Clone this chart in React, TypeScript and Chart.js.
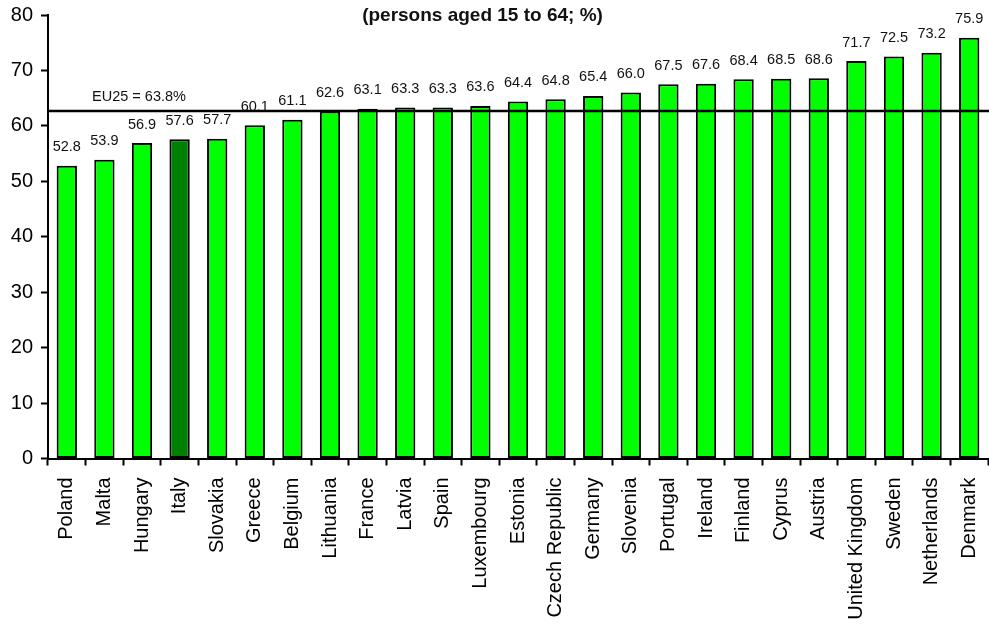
import React, { useEffect, useRef } from "react";
import { Chart, registerables } from "chart.js";

Chart.register(...registerables);

const categories = [
  "Poland", "Malta", "Hungary", "Italy", "Slovakia", "Greece", "Belgium",
  "Lithuania", "France", "Latvia", "Spain", "Luxembourg", "Estonia",
  "Czech Republic", "Germany", "Slovenia", "Portugal", "Ireland", "Finland",
  "Cyprus", "Austria", "United Kingdom", "Sweden", "Netherlands", "Denmark",
];
const employmentRate = [
  52.8, 53.9, 56.9, 57.6, 57.7, 60.1, 61.1, 62.6, 63.1, 63.3, 63.3, 63.6,
  64.4, 64.8, 65.4, 66.0, 67.5, 67.6, 68.4, 68.5, 68.6, 71.7, 72.5, 73.2, 75.9,
];
const highlighted = "Italy";
const eu25LineValue = 62.7;
const eu25Label = "EU25 = 63.8%";
const titleText = "(persons aged 15 to 64; %)";
const yTicks = [0, 10, 20, 30, 40, 50, 60, 70, 80];

const FONT = "'Liberation Sans', Arial, Helvetica, sans-serif";

export default function App() {
  const ref = useRef<HTMLCanvasElement | null>(null);

  useEffect(() => {
    const canvas = ref.current;
    if (!canvas) return;

    const overlay = {
      id: "overlay",
      afterDatasetsDraw(chart: any) {
        const ctx = chart.ctx;
        const meta = chart.getDatasetMeta(0);
        const ds = chart.data.datasets[0];
        ctx.save();
        ctx.fillStyle = "#111";
        ctx.font = `14.5px ${FONT}`;
        ctx.textAlign = "center";
        ctx.textBaseline = "middle";
        meta.data.forEach((bar: any, i: number) => {
          ctx.fillText((ds.data[i] as number).toFixed(1), bar.x, bar.y - 18.5);
        });
        const y = chart.scales.y.getPixelForValue(eu25LineValue);
        ctx.strokeStyle = "#000";
        ctx.lineWidth = 2.5;
        ctx.beginPath();
        ctx.moveTo(chart.chartArea.left, y);
        ctx.lineTo(chart.width, y);
        ctx.stroke();
        ctx.fillStyle = "#111";
        ctx.fillText(eu25Label, 139, y - 13.5);
        ctx.font = `bold 19px ${FONT}`;
        ctx.fillText(titleText, 482.5, 16);
        ctx.restore();
      },
    };

    const chart = new Chart(canvas, {
      type: "bar",
      data: {
        labels: categories,
        datasets: [
          {
            data: employmentRate,
            backgroundColor: categories.map((c) => (c === highlighted ? "#008000" : "#00FF00")),
            borderColor: "#000",
            borderWidth: 2,
            borderSkipped: false,
            barPercentage: 0.54,
            categoryPercentage: 1,
          },
        ],
      },
      options: {
        responsive: false,
        animation: false,
        devicePixelRatio: 1,
        layout: { padding: { top: 15, right: 1, left: 0, bottom: 0 } },
        plugins: {
          legend: { display: false },
          tooltip: { enabled: false },
          title: { display: false },
        },
        scales: {
          x: {
            offset: true,
            grid: {
              offset: true,
              drawOnChartArea: false,
              drawTicks: true,
              tickLength: 7,
              tickColor: "#000",
              tickWidth: 2,
            },
            border: { display: true, color: "#000", width: 2 },
            ticks: {
              autoSkip: false,
              minRotation: 90,
              maxRotation: 90,
              padding: 12,
              color: "#000",
              font: { family: FONT, size: 20 },
            },
            afterFit(scale: any) {
              scale.height = 628 - 458.5;
              scale.paddingLeft = 0;
              scale.paddingRight = 0;
            },
          },
          y: {
            min: 0,
            max: 80,
            afterBuildTicks(scale: any) {
              scale.ticks = yTicks.map((v) => ({ value: v }));
            },
            grid: {
              drawOnChartArea: false,
              drawTicks: true,
              tickLength: 7,
              tickColor: "#000",
              tickWidth: 2,
            },
            border: { display: true, color: "#000", width: 2 },
            ticks: {
              padding: 8,
              color: "#000",
              font: { family: FONT, size: 20 },
            },
            afterFit(scale: any) {
              scale.width = 48;
              scale.paddingTop = 0;
              scale.paddingBottom = 0;
            },
          },
        },
      },
      plugins: [overlay],
    });

    return () => chart.destroy();
  }, []);

  return (
    <div style={{ position: "fixed", left: 0, top: 0, width: 989, height: 628, background: "#fff" }}>
      <canvas ref={ref} width={989} height={628} style={{ display: "block", width: 989, height: 628 }} />
    </div>
  );
}
